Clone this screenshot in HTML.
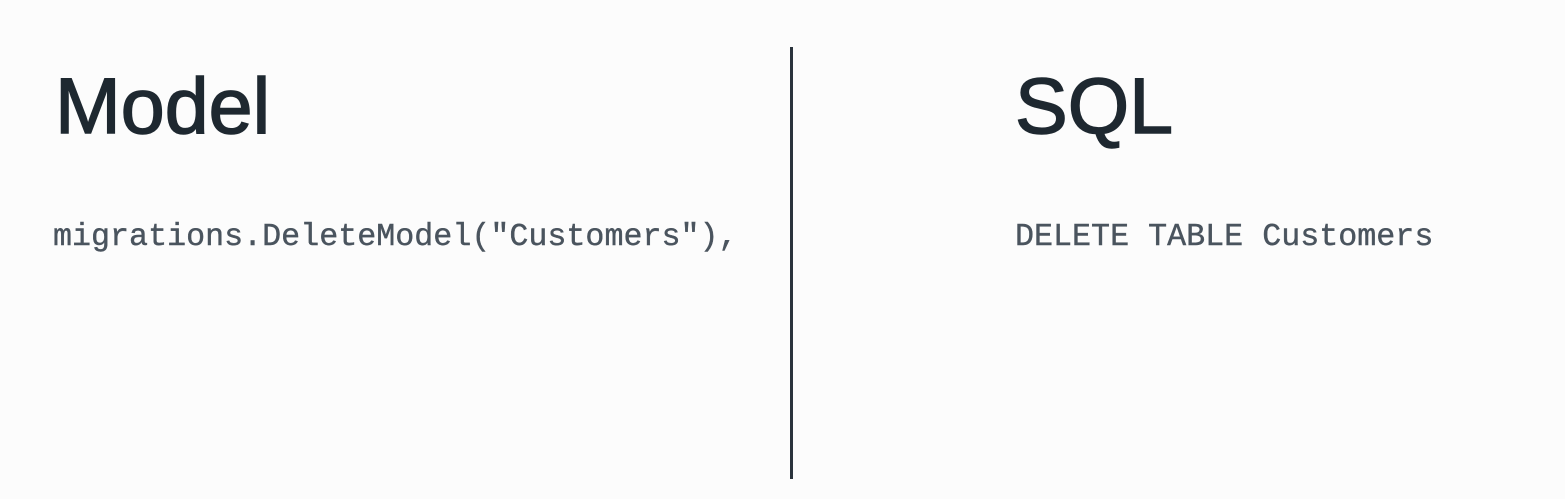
<!DOCTYPE html>
<html><head><meta charset="utf-8"><style>
html,body{margin:0;padding:0;}
body{width:1565px;height:499px;background:#fcfcfc;position:relative;overflow:hidden;}
.t{position:absolute;font-family:"Liberation Sans",sans-serif;font-size:79px;color:#1e2830;line-height:1;-webkit-text-stroke:1.5px #1e2830;}
.c{position:absolute;font-family:"Liberation Mono",monospace;font-size:31.7px;color:#4a545e;line-height:1;white-space:pre;-webkit-text-stroke:0.4px #4a545e;}
.line{position:absolute;left:790px;top:47px;width:3px;height:432px;background:#2a333c;}
</style></head><body>
<div class="t" style="left:55px;top:66px;">Model</div>
<div class="t" style="left:1015px;top:66px;">SQL</div>
<div class="c" style="left:53px;top:222px;">migrations.DeleteModel("Customers"),</div>
<div class="c" style="left:1015px;top:222px;">DELETE TABLE Customers</div>
<div class="line"></div>
</body></html>
